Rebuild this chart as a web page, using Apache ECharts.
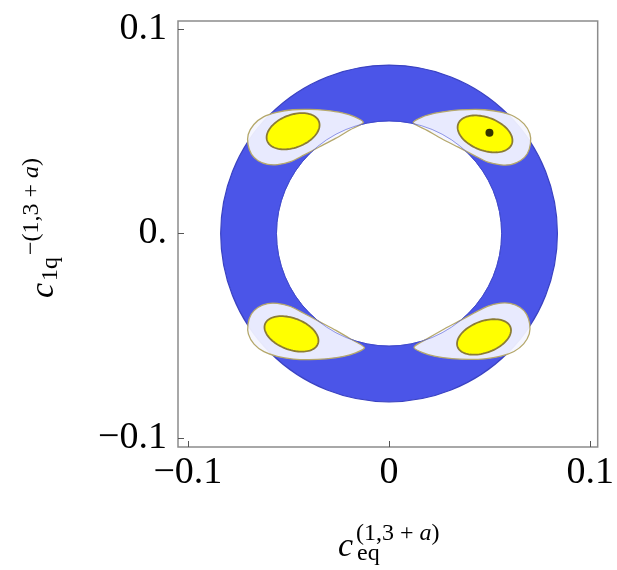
<!DOCTYPE html>
<html>
<head>
<meta charset="utf-8">
<script src="https://cdn.jsdelivr.net/npm/echarts@6.0.0/dist/echarts.min.js"></script>
<style>
  html, body { margin: 0; padding: 0; background: #fff; }
  #chart { width: 617px; height: 570px; }
</style>
</head>
<body>
<div id="chart"></div>
<script>
// Allowed band: annulus around the origin
const ringCenter = [0, 0];
const ringRadii = [0.0555, 0.083]; // inner, outer

// Outer (light) regions, one closed outline per quadrant, as [x, y]
const lobeNE = [
  [0.0120, 0.0541], [0.0164, 0.0569], [0.0229, 0.0588], [0.0311, 0.0601],
  [0.0393, 0.0606], [0.0475, 0.0605], [0.0556, 0.0593], [0.0622, 0.0572],
  [0.0671, 0.0536], [0.0700, 0.0488], [0.0703, 0.0439], [0.0687, 0.0390],
  [0.0654, 0.0357], [0.0605, 0.0337], [0.0556, 0.0336], [0.0491, 0.0349],
  [0.0425, 0.0381], [0.0344, 0.0422], [0.0262, 0.0463], [0.0189, 0.0504]
];
const lobeNW = [
  [-0.0128, 0.0543], [-0.0170, 0.0570], [-0.0233, 0.0590], [-0.0315, 0.0602],
  [-0.0397, 0.0607], [-0.0478, 0.0605], [-0.0558, 0.0592], [-0.0624, 0.0570],
  [-0.0672, 0.0533], [-0.0700, 0.0484], [-0.0701, 0.0436], [-0.0684, 0.0388],
  [-0.0651, 0.0356], [-0.0603, 0.0338], [-0.0554, 0.0337], [-0.0489, 0.0351],
  [-0.0424, 0.0383], [-0.0345, 0.0424], [-0.0266, 0.0465], [-0.0195, 0.0506]
];
const lobeSW = [
  [-0.0122, -0.0558], [-0.0166, -0.0584], [-0.0231, -0.0602], [-0.0313, -0.0613],
  [-0.0395, -0.0617], [-0.0476, -0.0614], [-0.0556, -0.0601], [-0.0622, -0.0578],
  [-0.0671, -0.0541], [-0.0699, -0.0492], [-0.0701, -0.0443], [-0.0685, -0.0395],
  [-0.0652, -0.0362], [-0.0604, -0.0343], [-0.0555, -0.0342], [-0.0490, -0.0357],
  [-0.0424, -0.0390], [-0.0344, -0.0432], [-0.0264, -0.0474], [-0.0191, -0.0516]
];
const lobeSE = [
  [0.0124, -0.0556], [0.0167, -0.0583], [0.0231, -0.0601], [0.0313, -0.0612],
  [0.0395, -0.0616], [0.0476, -0.0613], [0.0556, -0.0600], [0.0621, -0.0577],
  [0.0669, -0.0540], [0.0697, -0.0491], [0.0699, -0.0442], [0.0683, -0.0394],
  [0.0650, -0.0361], [0.0602, -0.0342], [0.0553, -0.0341], [0.0489, -0.0356],
  [0.0423, -0.0389], [0.0343, -0.0431], [0.0263, -0.0473], [0.0191, -0.0514]
];
const lobes = [lobeNE, lobeNW, lobeSW, lobeSE];

// Inner (yellow) regions: [centre x, centre y, semi-major, semi-minor, tilt in degrees]
const coreNE = [0.0477, 0.0487, 0.0142, 0.0081, -20];
const coreNW = [-0.0477, 0.0500, 0.0137, 0.0080, 20];
const coreSW = [-0.0485, -0.0491, 0.0140, 0.0077, -20];
const coreSE = [0.0472, -0.0506, 0.0140, 0.0077, 20];
const cores = [coreNE, coreNW, coreSW, coreSE];

// Reference point
const bestFit = [[0.0499, 0.0492]];

// Axis ticks and their printed labels
const xTicks = [-0.1, 0, 0.1];
const xTickLabels = ['\u22120.1', '0', '0.1'];
const yTicks = [-0.1, 0, 0.1];
const yTickLabels = ['\u22120.1', '0.', '0.1'];

const SERIF = 'Liberation Serif, Times New Roman, serif';

function tickLabel(ticks, labels) {
  return function (v) {
    const i = ticks.findIndex(t => Math.abs(t - v) < 1e-9);
    return i >= 0 ? labels[i] : '';
  };
}

function ellipsePoints(e, api) {
  const [cx, cy, a, b, deg] = e;
  const th = deg * Math.PI / 180;
  const pts = [];
  for (let k = 0; k < 90; k++) {
    const t = 2 * Math.PI * k / 90;
    const ex = a * Math.cos(t), ey = b * Math.sin(t);
    pts.push(api.coord([
      cx + ex * Math.cos(th) - ey * Math.sin(th),
      cy + ex * Math.sin(th) + ey * Math.cos(th)
    ]));
  }
  return pts;
}

function circleRadiusPx(api, r) {
  const s = api.size([r, r]);
  return (s[0] + s[1]) / 2;
}

const chart = echarts.init(document.getElementById('chart'), null, { renderer: 'canvas' });

const option = {
  animation: false,
  backgroundColor: '#ffffff',
  grid: {
    left: 178, right: 14, top: 21, bottom: 123,
    show: true, borderColor: '#8c8c8c', borderWidth: 1.5,
    backgroundColor: 'transparent'
  },
  xAxis: {
    type: 'value', min: -0.1049, max: 0.1037,
    splitLine: { show: false },
    axisLine: { show: false, onZero: false },
    axisTick: { show: true, inside: true, length: 6, customValues: xTicks,
      lineStyle: { color: '#555', width: 1 } },
    axisLabel: { customValues: xTicks, formatter: tickLabel(xTicks, xTickLabels),
      fontFamily: SERIF, fontSize: 38, color: '#000', margin: 7 }
  },
  yAxis: {
    type: 'value', min: -0.1044, max: 0.1039,
    splitLine: { show: false },
    axisLine: { show: false, onZero: false },
    axisTick: { show: true, inside: true, length: 6, customValues: yTicks,
      lineStyle: { color: '#555', width: 1 } },
    axisLabel: { customValues: yTicks, formatter: tickLabel(yTicks, yTickLabels),
      fontFamily: SERIF, fontSize: 38, color: '#000', margin: 11 }
  },
  series: [
    {
      type: 'custom',
      name: 'band',
      data: [ringCenter],
      encode: { x: 0, y: 1 },
      z: 1,
      renderItem: function (params, api) {
        const c = api.coord(ringCenter);
        return {
          type: 'group',
          children: [
            { type: 'circle', shape: { cx: c[0], cy: c[1], r: circleRadiusPx(api, ringRadii[1]) },
              style: { fill: '#4b55e8', stroke: '#3a42c2', lineWidth: 1.2 } },
            { type: 'circle', shape: { cx: c[0], cy: c[1], r: circleRadiusPx(api, ringRadii[0]) },
              style: { fill: '#ffffff', stroke: '#3a42c2', lineWidth: 1 } }
          ]
        };
      }
    },
    {
      type: 'custom',
      name: 'outer regions',
      data: lobes.map(l => l[0]),
      encode: { x: 0, y: 1 },
      z: 2,
      renderItem: function (params, api) {
        const pts = lobes[params.dataIndex].map(p => api.coord(p));
        return {
          type: 'polygon',
          shape: { points: pts, smooth: 0.25 },
          style: { fill: 'rgba(244,245,255,0.93)', stroke: '#b5a86c', lineWidth: 1.3 }
        };
      }
    },
    {
      // inner edge of the band, seen through the light regions
      type: 'custom',
      name: 'band edge',
      data: [ringCenter],
      encode: { x: 0, y: 1 },
      z: 3,
      silent: true,
      renderItem: function (params, api) {
        const c = api.coord(ringCenter);
        return {
          type: 'circle',
          shape: { cx: c[0], cy: c[1], r: circleRadiusPx(api, ringRadii[0]) },
          style: { fill: 'none', stroke: 'rgba(70,80,215,0.55)', lineWidth: 1 }
        };
      }
    },
    {
      type: 'custom',
      name: 'inner regions',
      data: cores.map(e => [e[0], e[1]]),
      encode: { x: 0, y: 1 },
      z: 4,
      renderItem: function (params, api) {
        return {
          type: 'polygon',
          shape: { points: ellipsePoints(cores[params.dataIndex], api) },
          style: { fill: '#ffff00', stroke: '#8b7c34', lineWidth: 1.8 }
        };
      }
    },
    {
      type: 'scatter',
      name: 'point',
      data: bestFit,
      symbol: 'circle',
      symbolSize: 8,
      itemStyle: { color: '#000' },
      z: 5
    }
  ],
  graphic: [
    {
      type: 'group', x: 338, y: 558,
      children: [
        { type: 'text', x: 0, y: -11,
          style: { text: 'c', font: 'italic 34px ' + SERIF, fill: '#000', verticalAlign: 'middle' } },
        { type: 'text', x: 18, y: -24,
          style: { text: '{n|(1,3 + }{i|a}{n|)}', verticalAlign: 'middle', fill: '#000',
            rich: { n: { font: '24px ' + SERIF, fill: '#000' }, i: { font: 'italic 24px ' + SERIF, fill: '#000' } } } },
        { type: 'text', x: 19, y: -4,
          style: { text: 'eq', font: '24px ' + SERIF, fill: '#000', verticalAlign: 'middle' } }
      ]
    },
    {
      type: 'group', x: 55, y: 298, rotation: Math.PI / 2,
      children: [
        { type: 'text', x: 0, y: -11,
          style: { text: 'c', font: 'italic 34px ' + SERIF, fill: '#000', verticalAlign: 'middle' } },
        { type: 'text', x: 17, y: -4,
          style: { text: '1q', font: '24px ' + SERIF, fill: '#000', verticalAlign: 'middle' } },
        { type: 'text', x: 43, y: -23,
          style: { text: '{n|\u2212(1,3 + }{i|a}{n|)}', verticalAlign: 'middle', fill: '#000',
            rich: { n: { font: '24px ' + SERIF, fill: '#000' }, i: { font: 'italic 24px ' + SERIF, fill: '#000' } } } }
      ]
    }
  ]
};

chart.setOption(option);
</script>
</body>
</html>
